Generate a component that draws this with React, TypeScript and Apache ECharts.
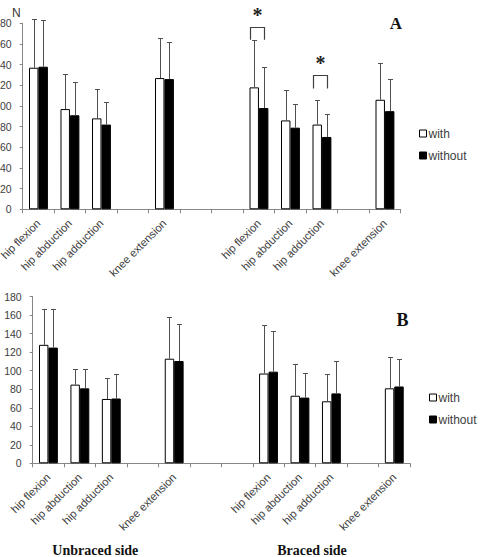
import React, { useEffect, useRef } from 'react';
import * as echarts from 'echarts';

// Muscle groups, unbraced side first, then braced side (blank slots are spacers)
const categories = [
  'hip flexion', 'hip abduction', 'hip adduction', '', 'knee extension', '', '',
  'hip flexion', 'hip abduction', 'hip adduction', '', 'knee extension',
];

// Panel A: mean force (N) and upward error (SD)
const aWithMean = [137, 97, 88, null, 127, null, null, 118, 86, 82, null, 106];
const aWithSd = [47, 34, 28, null, 39, null, null, 46, 29, 24, null, 36];
const aWithoutMean = [138, 91, 82, null, 126, null, null, 98, 79, 70, null, 95];
const aWithoutSd = [45, 32, 22, null, 36, null, null, 40, 23, 22, null, 31];

// Panel B: mean force (N) and upward error (SD)
const bWithMean = [128, 85, 69.5, null, 113, null, null, 97, 73, 67, null, 81];
const bWithSd = [39, 17, 23, null, 45, null, null, 52, 34, 30, null, 33.5];
const bWithoutMean = [125, 81, 70, null, 110.5, null, null, 99, 71, 75.5, null, 83];
const bWithoutSd = [42, 21, 27, null, 39.5, null, null, 44, 27, 34.5, null, 30];

// Significant differences in panel A: [category, bracket top, leg end, star]
const aSignificance = [
  [7, 176.7, 164, 188],
  [9, 130, 117, 141.5],
];

const Y_MIN = 0;
const Y_MAX = 180;
const Y_STEP = 20;

const SANS = '"Liberation Sans", Arial, sans-serif';
const SERIF = '"Liberation Serif", "Times New Roman", serif';
const AXIS_GRAY = '#868686';
const TEXT_GRAY = '#404040';
const BAR_FRACTION = 0.6; // share of a category band covered by the bar pair

function errorSeries(means: (number | null)[], sds: (number | null)[], axis: number, side: number) {
  const data = means
    .map((m, i) => (m == null ? null : [i, m, m + (sds[i] as number)]))
    .filter((d) => d !== null);
  return {
    type: 'custom',
    xAxisIndex: axis,
    yAxisIndex: axis,
    silent: true,
    z: 4,
    encode: { x: 0, y: [1, 2] },
    data,
    renderItem: (_params: any, api: any) => {
      const cat = api.value(0);
      const base = api.coord([cat, api.value(1)]);
      const top = api.coord([cat, api.value(2)]);
      const band = api.size([1, 0])[0];
      const barW = (band * BAR_FRACTION) / 2;
      const x = Math.round(base[0] + (side * barW) / 2) + 0.5;
      const yTop = Math.round(top[1]) + 0.5;
      const stroke = { stroke: '#505050', lineWidth: 1 };
      return {
        type: 'group',
        children: [
          { type: 'line', shape: { x1: x, y1: base[1], x2: x, y2: yTop }, style: stroke },
          { type: 'line', shape: { x1: x - 2.5, y1: yTop, x2: x + 2.5, y2: yTop }, style: stroke },
        ],
      };
    },
  };
}

function barSeries(name: string, means: (number | null)[], axis: number, fill: string) {
  return {
    type: 'bar',
    name,
    xAxisIndex: axis,
    yAxisIndex: axis,
    data: means,
    barGap: '0%',
    barCategoryGap: `${(1 - BAR_FRACTION) * 100}%`,
    itemStyle: { color: fill, borderColor: '#000', borderWidth: 1 },
    z: 2,
  };
}

function xAxis(gridIndex: number) {
  return {
    type: 'category',
    gridIndex,
    data: categories,
    boundaryGap: true,
    axisLine: { lineStyle: { color: AXIS_GRAY, width: 1 } },
    axisTick: { show: true, alignWithLabel: false, length: 4, lineStyle: { color: AXIS_GRAY } },
    axisLabel: {
      interval: 0,
      rotate: 45,
      margin: 12,
      fontSize: 11.2,
      fontFamily: SANS,
      color: TEXT_GRAY,
    },
    splitLine: { show: false },
  };
}

function yAxis(gridIndex: number) {
  return {
    type: 'value',
    gridIndex,
    min: Y_MIN,
    max: Y_MAX,
    interval: Y_STEP,
    axisLine: { show: true, lineStyle: { color: AXIS_GRAY, width: 1 } },
    axisTick: { show: true, length: 3, lineStyle: { color: AXIS_GRAY } },
    axisLabel: { margin: 11, fontSize: 10.5, fontFamily: SANS, color: TEXT_GRAY },
    splitLine: { show: false },
  };
}

function legend(left: number, top: number) {
  return {
    left,
    top,
    orient: 'vertical',
    padding: 0,
    itemWidth: 7,
    itemHeight: 7,
    itemGap: 10,
    selectedMode: false,
    textStyle: { fontSize: 12, fontFamily: SANS, color: TEXT_GRAY, padding: [0, 0, 0, -3] },
    data: [
      { name: 'with', icon: 'rect', itemStyle: { color: '#fff', borderColor: '#000', borderWidth: 1 } },
      { name: 'without', icon: 'rect', itemStyle: { color: '#000', borderColor: '#000', borderWidth: 1 } },
    ],
  };
}

const significanceSeries = {
  type: 'custom',
  xAxisIndex: 0,
  yAxisIndex: 0,
  silent: true,
  z: 5,
  encode: { x: 0, y: [1, 2, 3] },
  data: aSignificance,
  renderItem: (_params: any, api: any) => {
    const cat = api.value(0);
    const top = api.coord([cat, api.value(1)]);
    const leg = api.coord([cat, api.value(2)]);
    const star = api.coord([cat, api.value(3)]);
    const band = api.size([1, 0])[0];
    const barW = (band * BAR_FRACTION) / 2;
    const x1 = Math.round(top[0] - barW) + 0.5;
    const x2 = Math.round(top[0] + barW / 2) + 0.5;
    const yT = Math.round(top[1]) + 0.5;
    return {
      type: 'group',
      children: [
        {
          type: 'polyline',
          shape: { points: [[x1, leg[1]], [x1, yT], [x2, yT], [x2, leg[1]]] },
          style: { stroke: '#404040', lineWidth: 1.2, fill: 'none' },
        },
        {
          type: 'text',
          x: (x1 + x2) / 2,
          y: star[1],
          style: {
            text: '*',
            fontSize: 20,
            fontWeight: 'bold',
            fontFamily: SERIF,
            fill: '#222',
            align: 'center',
            verticalAlign: 'middle',
          },
        },
      ],
    };
  },
};

export default function App() {
  const ref = useRef<HTMLDivElement>(null);

  useEffect(() => {
    if (!ref.current) return;
    const chart = echarts.init(ref.current, undefined, { renderer: 'svg' });
    chart.setOption({
      animation: false,
      backgroundColor: '#fff',
      textStyle: { fontFamily: SANS },
      grid: [
        { left: 22.7, top: 23.3, width: 378, height: 186, containLabel: false, outerBoundsMode: 'none' },
        { left: 32.7, top: 296.7, width: 377.3, height: 166.6, containLabel: false, outerBoundsMode: 'none' },
      ],
      xAxis: [xAxis(0), xAxis(1)],
      yAxis: [yAxis(0), yAxis(1)],
      legend: [legend(419, 127.5), legend(429, 391.5)],
      series: [
        barSeries('with', aWithMean, 0, '#fff'),
        barSeries('without', aWithoutMean, 0, '#000'),
        errorSeries(aWithMean, aWithSd, 0, -1),
        errorSeries(aWithoutMean, aWithoutSd, 0, 1),
        significanceSeries,
        barSeries('with', bWithMean, 1, '#fff'),
        barSeries('without', bWithoutMean, 1, '#000'),
        errorSeries(bWithMean, bWithSd, 1, -1),
        errorSeries(bWithoutMean, bWithoutSd, 1, 1),
      ],
      graphic: [
        {
          type: 'text',
          x: 16.3,
          y: 12.5,
          style: { text: 'N', fontSize: 12, fontFamily: SANS, fill: '#333', align: 'center', verticalAlign: 'middle' },
        },
        {
          type: 'text',
          x: 396,
          y: 23,
          style: { text: 'A', fontSize: 17, fontWeight: 'bold', fontFamily: SERIF, fill: '#111', align: 'center', verticalAlign: 'middle' },
        },
        {
          type: 'text',
          x: 402.5,
          y: 320,
          style: { text: 'B', fontSize: 18, fontWeight: 'bold', fontFamily: SERIF, fill: '#111', align: 'center', verticalAlign: 'middle' },
        },
        {
          type: 'text',
          x: 95.3,
          y: 550,
          style: { text: 'Unbraced side', fontSize: 14, fontWeight: 'bold', fontFamily: SERIF, fill: '#111', align: 'center', verticalAlign: 'middle' },
        },
        {
          type: 'text',
          x: 312,
          y: 550,
          style: { text: 'Braced side', fontSize: 14, fontWeight: 'bold', fontFamily: SERIF, fill: '#111', align: 'center', verticalAlign: 'middle' },
        },
      ],
    });
    return () => chart.dispose();
  }, []);

  return (
    <div
      ref={ref}
      style={{ position: 'absolute', left: 0, top: 0, width: 485, height: 557, background: '#fff' }}
    />
  );
}
